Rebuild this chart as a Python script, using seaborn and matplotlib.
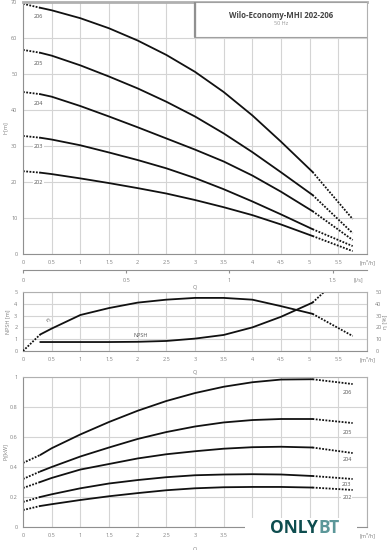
import numpy as np
import seaborn as sns
import matplotlib.pyplot as plt
from matplotlib.patches import Rectangle

# Q grid in m3/h
q = [0, 0.3, 0.5, 1, 1.5, 2, 2.5, 3, 3.5, 4, 4.5, 5.05, 5.75]
pumps = ["206", "205", "204", "203", "202"]

head = {
    "206": [69.5, 68.4, 67.7, 65.5, 62.7, 59.3, 55.3, 50.6, 45.0, 38.5, 31.2, 22.8, 9.7],
    "205": [56.7, 55.9, 55.1, 52.4, 49.3, 46.0, 42.3, 38.2, 33.5, 28.3, 22.7, 16.4, 5.8],
    "204": [45.0, 44.4, 43.7, 41.1, 38.2, 35.2, 32.1, 29.0, 25.7, 21.8, 17.3, 11.9, 3.9],
    "203": [32.8, 32.3, 31.8, 30.2, 28.2, 26.1, 23.8, 21.1, 18.0, 14.6, 11.0, 6.9, 2.2],
    "202": [23.0, 22.6, 22.2, 21.0, 19.7, 18.3, 16.8, 15.0, 13.0, 10.8, 8.2, 5.0, 0.8],
}
power = {
    "206": [0.427, 0.48, 0.525, 0.617, 0.70, 0.775, 0.84, 0.893, 0.935, 0.965, 0.983, 0.985, 0.953],
    "205": [0.32, 0.37, 0.40, 0.47, 0.53, 0.587, 0.633, 0.67, 0.697, 0.713, 0.72, 0.72, 0.693],
    "204": [0.26, 0.30, 0.327, 0.383, 0.42, 0.457, 0.485, 0.505, 0.522, 0.532, 0.535, 0.53, 0.493],
    "203": [0.167, 0.20, 0.218, 0.258, 0.29, 0.313, 0.332, 0.345, 0.35, 0.352, 0.35, 0.34, 0.32],
    "202": [0.113, 0.14, 0.152, 0.18, 0.205, 0.226, 0.245, 0.258, 0.265, 0.267, 0.267, 0.263, 0.247],
}
eta = [0, 14, 19, 30.5, 36.4, 41, 43.5, 45, 45, 43.5, 38, 31.5, 12.7]

q_npsh = [0.3, 0.5, 1, 1.5, 2, 2.5, 3, 3.5, 4, 4.5, 5.05, 5.25]
npsh = [0.76, 0.76, 0.76, 0.76, 0.78, 0.85, 1.05, 1.36, 2.0, 2.9, 4.1, 5.0]

head_lbl = {"206": 66, "205": 53, "204": 41.7, "203": 30, "202": 20}
power_lbl = {"206": 0.9, "205": 0.633, "204": 0.447, "203": 0.28, "202": 0.195}

xticks = np.arange(0, 6.01, 0.5)
xlabels = ["0", "0.5", "1", "1.5", "2", "2.5", "3", "3.5", "4", "4.5", "5", "5.5", "[m³/h]"]

sns.set_theme(style="white")
plt.rcParams["font.family"] = ["Open Sans", "DejaVu Sans"]

INK = "#111111"
GRID = "#d4d4d4"
TXT = "#808080"
FS = 4


def curve(ax, x, y, lo, hi, lw=1.3):
    x = np.asarray(x, float)
    y = np.asarray(y, float)
    m = (x >= lo) & (x <= hi)
    sns.lineplot(x=x[m], y=y[m], ax=ax, color=INK, lw=lw, sort=False, estimator=None)
    for mm in (x <= lo, x >= hi):
        if mm.sum() >= 2:
            sns.lineplot(x=x[mm], y=y[mm], ax=ax, color=INK, lw=lw, sort=False,
                         estimator=None, linestyle=(0, (1, 0.8)))


def style(ax, ymax, yticks, ylabels, xl=xlabels):
    ax.set_xlim(0, 6)
    ax.set_ylim(0, ymax)
    ax.set_xticks(xticks)
    ax.set_xticklabels(xl)
    ax.set_yticks(yticks)
    ax.set_yticklabels(ylabels)
    ax.grid(True, color=GRID, lw=0.8)
    ax.tick_params(length=0, labelsize=FS, labelcolor=TXT, pad=4)
    for s in ax.spines.values():
        s.set_color("#b0b0b0")
        s.set_linewidth(0.8)
    ax.spines["left"].set_color("#909090")
    ax.spines["bottom"].set_color("#909090")
    ax.set_xlabel("Q", fontsize=FS, color=TXT)


fig = plt.figure(figsize=(3.9, 5.5), dpi=100)
W, H = 390, 550


def axes_px(l, t, r, b):
    return fig.add_axes([l / W, 1 - b / H, (r - l) / W, (b - t) / H])


# ---- head curves
ax1 = axes_px(23, 2, 367, 254)
for p in pumps:
    curve(ax1, q, head[p], 0.3, 5.05)
    ax1.text(0.27, head_lbl[p], p, fontsize=FS, color="#555555", ha="center", va="center",
             bbox=dict(facecolor="white", edgecolor="none", pad=0.6))
style(ax1, 70, np.arange(0, 71, 10), [str(v) for v in range(0, 71, 10)])
ax1.spines["top"].set_linewidth(2)
ax1.set_ylabel("H[m]", fontsize=FS, color=TXT, labelpad=2)
ax1.xaxis.set_label_coords(0.5, -0.125)

sec = ax1.secondary_xaxis(-0.063, functions=(lambda v: v / 3.6, lambda v: v * 3.6))
sec.set_xticks([0, 0.5, 1, 1.5, 1.625])
sec.set_xticklabels(["0", "0.5", "1", "1.5", "[l/s]"])
sec.tick_params(length=2.5, width=0.8, color="#909090", labelsize=FS, labelcolor=TXT, pad=3)
sec.spines["bottom"].set_color("#909090")
sec.spines["bottom"].set_linewidth(0.8)
sec.xaxis.get_major_ticks()[-1].tick1line.set_visible(False)

ax1.add_patch(Rectangle((0.5, 0.861), 0.5, 0.139, transform=ax1.transAxes, facecolor="white",
                        edgecolor="#a0a0a0", lw=0.8, zorder=5))
ax1.plot([0.5, 0.5], [0.861, 1.0], transform=ax1.transAxes, color="#909090", lw=1.6, zorder=6)
ax1.text(0.75, 0.948, "Wilo-Economy-MHI 202-206", transform=ax1.transAxes, fontsize=5.6,
         fontweight="bold", color="#444444", ha="center", va="center", zorder=7)
ax1.text(0.75, 0.915, "50 Hz", transform=ax1.transAxes, fontsize=4, color="#999999",
         ha="center", va="center", zorder=7)

# ---- NPSH / efficiency
ax2 = axes_px(23, 292, 367, 351)
curve(ax2, q_npsh, npsh, 0.3, 5.05)
style(ax2, 5, range(0, 6), [str(v) for v in range(0, 6)])
ax2.set_ylabel("NPSH [m]", fontsize=FS, color=TXT, labelpad=3)
ax2.xaxis.set_label_coords(0.5, -0.32)
ax2.text(2.05, 1.3, "NPSH", fontsize=FS, color="#555555", ha="center", va="center")

ax2b = ax2.twinx()
curve(ax2b, q, eta, 0.3, 5.05)
ax2b.set_ylim(0, 50)
ax2b.set_yticks(range(0, 51, 10))
ax2b.set_yticklabels([str(v) for v in range(0, 51, 10)])
ax2b.tick_params(length=0, labelsize=FS, labelcolor=TXT, pad=6)
ax2b.set_ylabel("η [%]", fontsize=FS + 0.5, color=TXT, labelpad=1)
for s in ax2b.spines.values():
    s.set_visible(False)
ax2b.text(0.45, 26, "η", fontsize=FS + 0.5, color="#555555", ha="center", va="center", rotation=40)

# ---- power curves (ticks under the watermark carry no label, as in the source)
ax3 = axes_px(23, 377, 367, 527)
for p in pumps:
    curve(ax3, q, power[p], 0.3, 5.05)
    ax3.text(5.65, power_lbl[p], p, fontsize=FS, color="#555555", ha="center", va="center",
             bbox=dict(facecolor="white", edgecolor="none", pad=0.6))
style(ax3, 1, [0, 0.2, 0.4, 0.6, 0.8, 1], ["0", "0.2", "0.4", "0.6", "0.8", "1"],
      xl=xlabels[:8] + [""] * 4 + [xlabels[-1]])
ax3.set_ylabel("P₁[kW]", fontsize=FS, color=TXT, labelpad=1)
ax3.xaxis.set_label_coords(0.5, -0.13)

# watermark of the source picture
fig.patches.append(Rectangle((245 / W, 1 - 536 / H), 112 / W, 18 / H, transform=fig.transFigure,
                             facecolor="white", edgecolor="none", zorder=10))
fig.text(318 / W, 1 - 528 / H, "ONLY", fontsize=12.5, fontweight="bold", color="#0e4d4f",
         ha="right", va="center", zorder=11)
fig.text(318 / W, 1 - 528 / H, "BT", fontsize=12.5, fontweight="bold", color="#5c9799",
         ha="left", va="center", zorder=11)

plt.savefig("out.png", dpi=100)
